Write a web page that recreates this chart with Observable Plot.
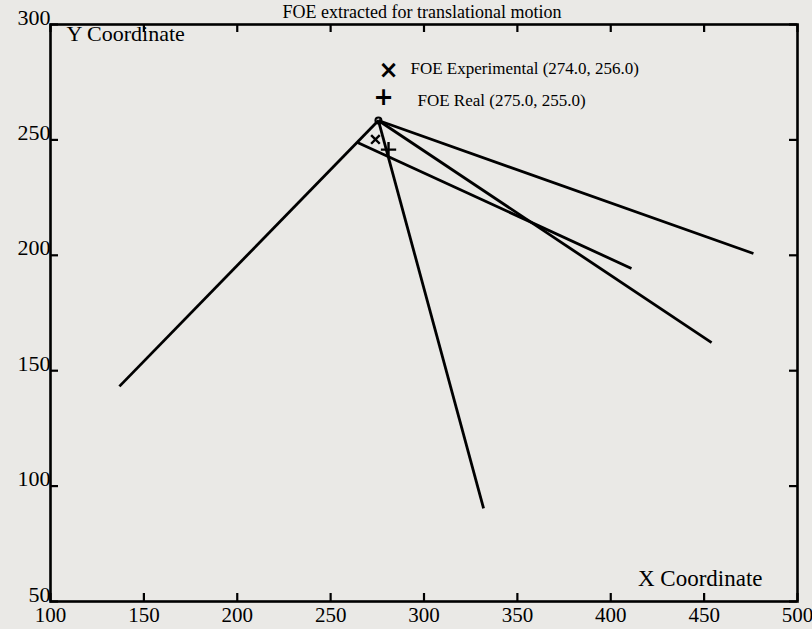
<!DOCTYPE html>
<html>
<head>
<meta charset="utf-8">
<script src="https://cdn.jsdelivr.net/npm/d3@7"></script>
<script src="https://cdn.jsdelivr.net/npm/@observablehq/plot@0.6"></script>
<style>
  html, body { margin: 0; padding: 0; background: #eae9e6; }
  #chart { width: 812px; height: 629px; }
</style>
</head>
<body>
<div id="chart"></div>
<script>
// Line segments (start -> end), in data units
const segX1 = [136.9, 264.4, 275.6, 275.6, 275.6];
const segY1 = [143.2, 248.9, 258.4, 258.4, 258.4];
const segX2 = [275.6, 411.1, 454.0, 476.4, 331.9];
const segY2 = [258.4, 194.3, 162.2, 200.8, 90.3];

// Markers
const foeExperimental = {x: 274.0, y: 250.2};
const foeReal = {x: 281.0, y: 245.8};
const apex = {x: 275.6, y: 258.4};

// Tick values
const xTicks = [100, 150, 200, 250, 300, 350, 400, 450, 500];
const yTicks = [50, 100, 150, 200, 250, 300];

const titleText = "FOE extracted for translational motion";
const legendLabels = ["FOE Experimental (274.0, 256.0)", "FOE Real (275.0, 255.0)"];

const segments = segX1.map((x1, i) => ({x1, y1: segY1[i], x2: segX2[i], y2: segY2[i]}));

const font = "Liberation Serif";
const W = 812, H = 629, ML = 50, MR = 15, MT = 24, MB = 28;
const frameW = W - ML - MR, frameH = H - MT - MB, tickLen = 8;

const chart = Plot.plot({
  width: W,
  height: H,
  marginLeft: ML,
  marginRight: MR,
  marginTop: MT,
  marginBottom: MB,
  style: {background: "#eae9e6", fontFamily: font, color: "black"},
  x: {domain: [100, 500]},
  y: {domain: [50, 300]},
  marks: [
    Plot.frame({stroke: "black", strokeWidth: 2.6}),
    // tick labels
    Plot.axisX({anchor: "bottom", ticks: xTicks, tickSize: 0, tickPadding: 2, dy: 4, fontSize: 21, tickFormat: d => String(d)}),
    Plot.axisY({anchor: "left", ticks: yTicks, tickSize: 0, tickPadding: 0, dy: -7, fontSize: 22, tickFormat: d => String(d)}),
    // inward tick marks
    Plot.ruleX(xTicks, {x: d => d, insetTop: frameH - tickLen, stroke: "black", strokeWidth: 2.2}),
    Plot.ruleX(xTicks, {x: d => d, insetBottom: frameH - tickLen, stroke: "black", strokeWidth: 2.2}),
    Plot.ruleY(yTicks, {y: d => d, insetRight: frameW - tickLen, stroke: "black", strokeWidth: 2.2}),
    Plot.ruleY(yTicks, {y: d => d, insetLeft: frameW - tickLen, stroke: "black", strokeWidth: 2.2}),
    Plot.link(segments, {x1: "x1", y1: "y1", x2: "x2", y2: "y2", stroke: "black", strokeWidth: 2.8}),
    Plot.dot([foeExperimental], {x: "x", y: "y", symbol: "times", r: 4, stroke: "black", strokeWidth: 2.4}),
    Plot.dot([foeReal], {x: "x", y: "y", symbol: "plus", r: 5, stroke: "black", strokeWidth: 2.4}),
    Plot.dot([apex], {x: "x", y: "y", symbol: "circle", r: 3, stroke: "black", strokeWidth: 2, fill: "none"}),
    Plot.text([titleText], {text: d => d, frameAnchor: "top", lineAnchor: "middle", dx: -2, dy: -12, fontSize: 18, fill: "black"}),
    Plot.text(["Y Coordinate"], {text: d => d, frameAnchor: "top-left", textAnchor: "start", lineAnchor: "middle", dx: 16, dy: 9, fontSize: 22, fill: "black"}),
    Plot.text(["X Coordinate"], {text: d => d, frameAnchor: "bottom-right", textAnchor: "end", lineAnchor: "middle", dx: -35, dy: -23, fontSize: 23, fill: "black"}),
    Plot.text(["×"], {text: d => d, frameAnchor: "top-left", textAnchor: "middle", lineAnchor: "middle", dx: 338, dy: 46, fontSize: 24, fontWeight: "bold", fill: "black", fontFamily: "DejaVu Sans"}),
    Plot.text([legendLabels[0]], {text: d => d, frameAnchor: "top-left", textAnchor: "start", lineAnchor: "middle", dx: 360, dy: 44, fontSize: 17, fill: "black"}),
    Plot.text(["+"], {text: d => d, frameAnchor: "top-left", textAnchor: "middle", lineAnchor: "middle", dx: 333, dy: 73, fontSize: 24, fontWeight: "bold", fill: "black", fontFamily: "DejaVu Sans"}),
    Plot.text([legendLabels[1]], {text: d => d, frameAnchor: "top-left", textAnchor: "start", lineAnchor: "middle", dx: 367, dy: 76, fontSize: 17, fill: "black"})
  ]
});
document.getElementById("chart").appendChild(chart);
</script>
</body>
</html>
